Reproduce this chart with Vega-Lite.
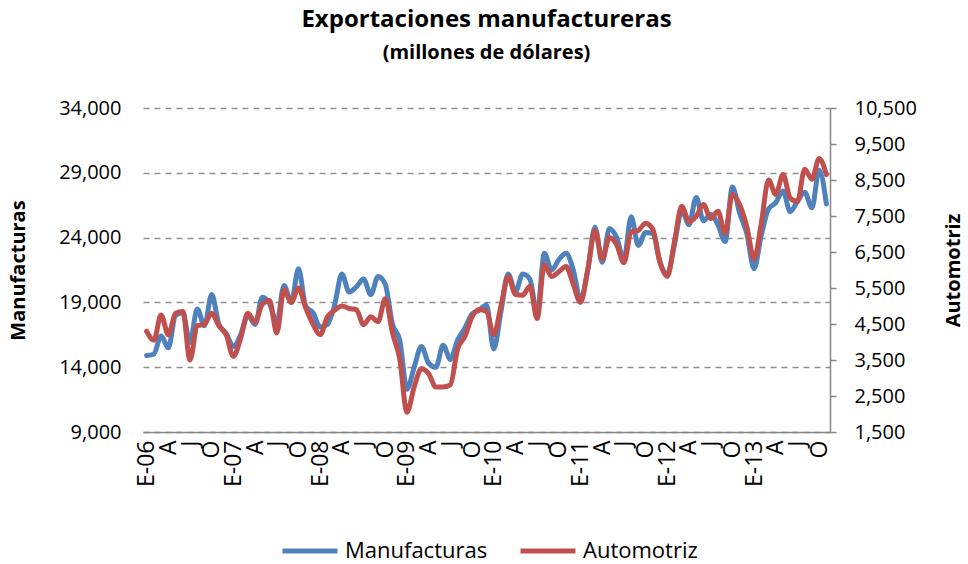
{
  "$schema": "https://vega.github.io/schema/vega-lite/v6.json",
  "width": 687,
  "height": 324,
  "autosize": {"type": "none"},
  "padding": {"left": 143, "top": 108, "right": 138, "bottom": 132},
  "title": {
    "text": "Exportaciones manufactureras",
    "subtitle": "(millones de dólares)",
    "anchor": "middle",
    "font": "Open Sans",
    "subtitleFont": "Open Sans",
    "fontSize": 24,
    "fontWeight": "bold",
    "subtitleFontSize": 20,
    "subtitleFontWeight": "bold",
    "color": "#000000",
    "subtitleColor": "#000000",
    "offset": 35,
    "subtitlePadding": 11
  },
  "data": {
    "values": [
      {"mes": "2006-01", "Manufacturas": 14900, "Automotriz": 4300},
      {"mes": "2006-02", "Manufacturas": 15000, "Automotriz": 4050},
      {"mes": "2006-03", "Manufacturas": 16400, "Automotriz": 4750},
      {"mes": "2006-04", "Manufacturas": 15500, "Automotriz": 4200},
      {"mes": "2006-05", "Manufacturas": 18000, "Automotriz": 4800},
      {"mes": "2006-06", "Manufacturas": 18200, "Automotriz": 4850},
      {"mes": "2006-07", "Manufacturas": 15900, "Automotriz": 3500},
      {"mes": "2006-08", "Manufacturas": 18500, "Automotriz": 4450},
      {"mes": "2006-09", "Manufacturas": 17200, "Automotriz": 4500},
      {"mes": "2006-10", "Manufacturas": 19600, "Automotriz": 4800},
      {"mes": "2006-11", "Manufacturas": 17300, "Automotriz": 4450},
      {"mes": "2006-12", "Manufacturas": 16600, "Automotriz": 4200},
      {"mes": "2007-01", "Manufacturas": 15600, "Automotriz": 3600},
      {"mes": "2007-02", "Manufacturas": 16500, "Automotriz": 4100},
      {"mes": "2007-03", "Manufacturas": 18000, "Automotriz": 4800},
      {"mes": "2007-04", "Manufacturas": 17300, "Automotriz": 4550},
      {"mes": "2007-05", "Manufacturas": 19400, "Automotriz": 5050},
      {"mes": "2007-06", "Manufacturas": 18900, "Automotriz": 5150},
      {"mes": "2007-07", "Manufacturas": 17400, "Automotriz": 4250},
      {"mes": "2007-08", "Manufacturas": 20300, "Automotriz": 5450},
      {"mes": "2007-09", "Manufacturas": 19000, "Automotriz": 5100},
      {"mes": "2007-10", "Manufacturas": 21600, "Automotriz": 5500},
      {"mes": "2007-11", "Manufacturas": 18700, "Automotriz": 4950},
      {"mes": "2007-12", "Manufacturas": 18200, "Automotriz": 4500},
      {"mes": "2008-01", "Manufacturas": 17100, "Automotriz": 4200},
      {"mes": "2008-02", "Manufacturas": 17300, "Automotriz": 4700},
      {"mes": "2008-03", "Manufacturas": 18800, "Automotriz": 4880},
      {"mes": "2008-04", "Manufacturas": 21200, "Automotriz": 5000},
      {"mes": "2008-05", "Manufacturas": 19800, "Automotriz": 4930},
      {"mes": "2008-06", "Manufacturas": 20200, "Automotriz": 4900},
      {"mes": "2008-07", "Manufacturas": 20800, "Automotriz": 4480},
      {"mes": "2008-08", "Manufacturas": 19600, "Automotriz": 4700},
      {"mes": "2008-09", "Manufacturas": 21000, "Automotriz": 4560},
      {"mes": "2008-10", "Manufacturas": 20400, "Automotriz": 5200},
      {"mes": "2008-11", "Manufacturas": 17300, "Automotriz": 4250},
      {"mes": "2008-12", "Manufacturas": 16100, "Automotriz": 3530},
      {"mes": "2009-01", "Manufacturas": 12300, "Automotriz": 2050},
      {"mes": "2009-02", "Manufacturas": 14000, "Automotriz": 2750},
      {"mes": "2009-03", "Manufacturas": 15600, "Automotriz": 3260},
      {"mes": "2009-04", "Manufacturas": 14300, "Automotriz": 3120},
      {"mes": "2009-05", "Manufacturas": 14000, "Automotriz": 2750},
      {"mes": "2009-06", "Manufacturas": 15700, "Automotriz": 2750},
      {"mes": "2009-07", "Manufacturas": 14600, "Automotriz": 2810},
      {"mes": "2009-08", "Manufacturas": 16100, "Automotriz": 3800},
      {"mes": "2009-09", "Manufacturas": 17000, "Automotriz": 4150},
      {"mes": "2009-10", "Manufacturas": 18100, "Automotriz": 4700},
      {"mes": "2009-11", "Manufacturas": 18400, "Automotriz": 4900},
      {"mes": "2009-12", "Manufacturas": 18800, "Automotriz": 4850},
      {"mes": "2010-01", "Manufacturas": 15400, "Automotriz": 4200},
      {"mes": "2010-02", "Manufacturas": 18300, "Automotriz": 5000},
      {"mes": "2010-03", "Manufacturas": 21200, "Automotriz": 5820},
      {"mes": "2010-04", "Manufacturas": 19800, "Automotriz": 5320},
      {"mes": "2010-05", "Manufacturas": 21200, "Automotriz": 5300},
      {"mes": "2010-06", "Manufacturas": 20800, "Automotriz": 5550},
      {"mes": "2010-07", "Manufacturas": 18100, "Automotriz": 4650},
      {"mes": "2010-08", "Manufacturas": 22800, "Automotriz": 6150},
      {"mes": "2010-09", "Manufacturas": 21500, "Automotriz": 5820},
      {"mes": "2010-10", "Manufacturas": 22300, "Automotriz": 5950},
      {"mes": "2010-11", "Manufacturas": 22800, "Automotriz": 6100},
      {"mes": "2010-12", "Manufacturas": 21500, "Automotriz": 5600},
      {"mes": "2011-01", "Manufacturas": 19200, "Automotriz": 5100},
      {"mes": "2011-02", "Manufacturas": 21500, "Automotriz": 6000},
      {"mes": "2011-03", "Manufacturas": 24800, "Automotriz": 7100},
      {"mes": "2011-04", "Manufacturas": 22100, "Automotriz": 6300},
      {"mes": "2011-05", "Manufacturas": 24700, "Automotriz": 6900},
      {"mes": "2011-06", "Manufacturas": 24000, "Automotriz": 6700},
      {"mes": "2011-07", "Manufacturas": 22300, "Automotriz": 6200},
      {"mes": "2011-08", "Manufacturas": 25600, "Automotriz": 7050},
      {"mes": "2011-09", "Manufacturas": 23400, "Automotriz": 7100},
      {"mes": "2011-10", "Manufacturas": 24400, "Automotriz": 7300},
      {"mes": "2011-11", "Manufacturas": 24300, "Automotriz": 7130},
      {"mes": "2011-12", "Manufacturas": 22100, "Automotriz": 6200},
      {"mes": "2012-01", "Manufacturas": 21200, "Automotriz": 5820},
      {"mes": "2012-02", "Manufacturas": 23500, "Automotriz": 6800},
      {"mes": "2012-03", "Manufacturas": 26100, "Automotriz": 7770},
      {"mes": "2012-04", "Manufacturas": 25000, "Automotriz": 7350},
      {"mes": "2012-05", "Manufacturas": 27100, "Automotriz": 7490},
      {"mes": "2012-06", "Manufacturas": 25300, "Automotriz": 7820},
      {"mes": "2012-07", "Manufacturas": 25800, "Automotriz": 7430},
      {"mes": "2012-08", "Manufacturas": 25000, "Automotriz": 7630},
      {"mes": "2012-09", "Manufacturas": 23700, "Automotriz": 7020},
      {"mes": "2012-10", "Manufacturas": 27900, "Automotriz": 8100},
      {"mes": "2012-11", "Manufacturas": 25900, "Automotriz": 7820},
      {"mes": "2012-12", "Manufacturas": 24300, "Automotriz": 7200},
      {"mes": "2013-01", "Manufacturas": 21600, "Automotriz": 6300},
      {"mes": "2013-02", "Manufacturas": 24200, "Automotriz": 7300},
      {"mes": "2013-03", "Manufacturas": 26200, "Automotriz": 8500},
      {"mes": "2013-04", "Manufacturas": 26700, "Automotriz": 8100},
      {"mes": "2013-05", "Manufacturas": 27600, "Automotriz": 8650},
      {"mes": "2013-06", "Manufacturas": 26000, "Automotriz": 8000},
      {"mes": "2013-07", "Manufacturas": 26800, "Automotriz": 7900},
      {"mes": "2013-08", "Manufacturas": 27500, "Automotriz": 8800},
      {"mes": "2013-09", "Manufacturas": 26300, "Automotriz": 8520},
      {"mes": "2013-10", "Manufacturas": 29200, "Automotriz": 9100},
      {"mes": "2013-11", "Manufacturas": 26600, "Automotriz": 8650}
    ]
  },
  "encoding": {
    "x": {
      "field": "mes",
      "type": "ordinal",
      "scale": {"type": "point", "padding": 0.5},
      "axis": {
        "values": ["2006-01","2006-04","2006-07","2006-10","2007-01","2007-04","2007-07","2007-10","2008-01","2008-04","2008-07","2008-10","2009-01","2009-04","2009-07","2009-10","2010-01","2010-04","2010-07","2010-10","2011-01","2011-04","2011-07","2011-10","2012-01","2012-04","2012-07","2012-10","2013-01","2013-04","2013-07","2013-10"],
        "labelExpr": "substring(datum.value,5,7)=='01' ? 'E-' + substring(datum.value,2,4) : substring(datum.value,5,7)=='04' ? 'A' : substring(datum.value,5,7)=='07' ? 'J' : 'O'",
        "labelAngle": 270,
        "labelFontSize": 23,
        "labelPadding": 8,
        "ticks": false,
        "grid": false,
        "domainColor": "#868686",
        "domainWidth": 1.5,
        "title": null
      }
    }
  },
  "layer": [
    {
      "mark": {"type": "line", "strokeWidth": 5, "interpolate": "monotone", "strokeCap": "round", "strokeJoin": "round"},
      "encoding": {
        "y": {
          "field": "Manufacturas",
          "type": "quantitative",
          "scale": {"domain": [9000, 34000], "nice": false, "zero": false},
          "axis": {
            "orient": "left",
            "values": [9000, 14000, 19000, 24000, 29000, 34000],
            "format": ",.0f",
            "grid": true,
            "gridDash": [6, 5],
            "gridColor": "#8f8f8f",
            "gridWidth": 1.5,
            "domain": false,
            "ticks": false,
            "labelPadding": 22,
            "labelFontSize": 20,
            "title": "Manufacturas",
            "titleFontSize": 20,
            "titleFontWeight": "bold",
            "titlePadding": 30
          }
        },
        "color": {
          "datum": "Manufacturas",
          "type": "nominal",
          "scale": {"domain": ["Manufacturas", "Automotriz"], "range": ["#4F81BD", "#C0504D"]},
          "legend": {
            "orient": "none",
            "legendX": 137,
            "legendY": 413,
            "direction": "horizontal",
            "title": null,
            "symbolType": "stroke",
            "symbolSize": 3025,
            "symbolStrokeWidth": 5,
            "labelFontSize": 22,
            "labelOffset": 5,
            "columnPadding": 22
          }
        }
      }
    },
    {
      "mark": {"type": "line", "strokeWidth": 5, "interpolate": "monotone", "strokeCap": "round", "strokeJoin": "round"},
      "encoding": {
        "y": {
          "field": "Automotriz",
          "type": "quantitative",
          "scale": {"domain": [1500, 10500], "nice": false, "zero": false},
          "axis": {
            "orient": "right",
            "values": [1500, 2500, 3500, 4500, 5500, 6500, 7500, 8500, 9500, 10500],
            "format": ",.0f",
            "grid": false,
            "domain": true,
            "domainColor": "#868686",
            "domainWidth": 1.5,
            "ticks": true,
            "tickSize": 6,
            "tickColor": "#868686",
            "tickWidth": 1.5,
            "labelPadding": 18,
            "labelFontSize": 20,
            "title": "Automotriz",
            "titleFontSize": 20,
            "titleFontWeight": "bold",
            "titleAngle": 270,
            "titleBaseline": "top",
            "titlePadding": 27
          }
        },
        "color": {"datum": "Automotriz", "type": "nominal"}
      }
    }
  ],
  "resolve": {"scale": {"y": "independent"}},
  "config": {
    "font": "Open Sans",
    "view": {"stroke": null},
    "axis": {"labelFont": "Open Sans", "titleFont": "Open Sans", "labelColor": "#000000", "titleColor": "#000000"},
    "legend": {"labelFont": "Open Sans", "labelColor": "#000000"}
  }
}
